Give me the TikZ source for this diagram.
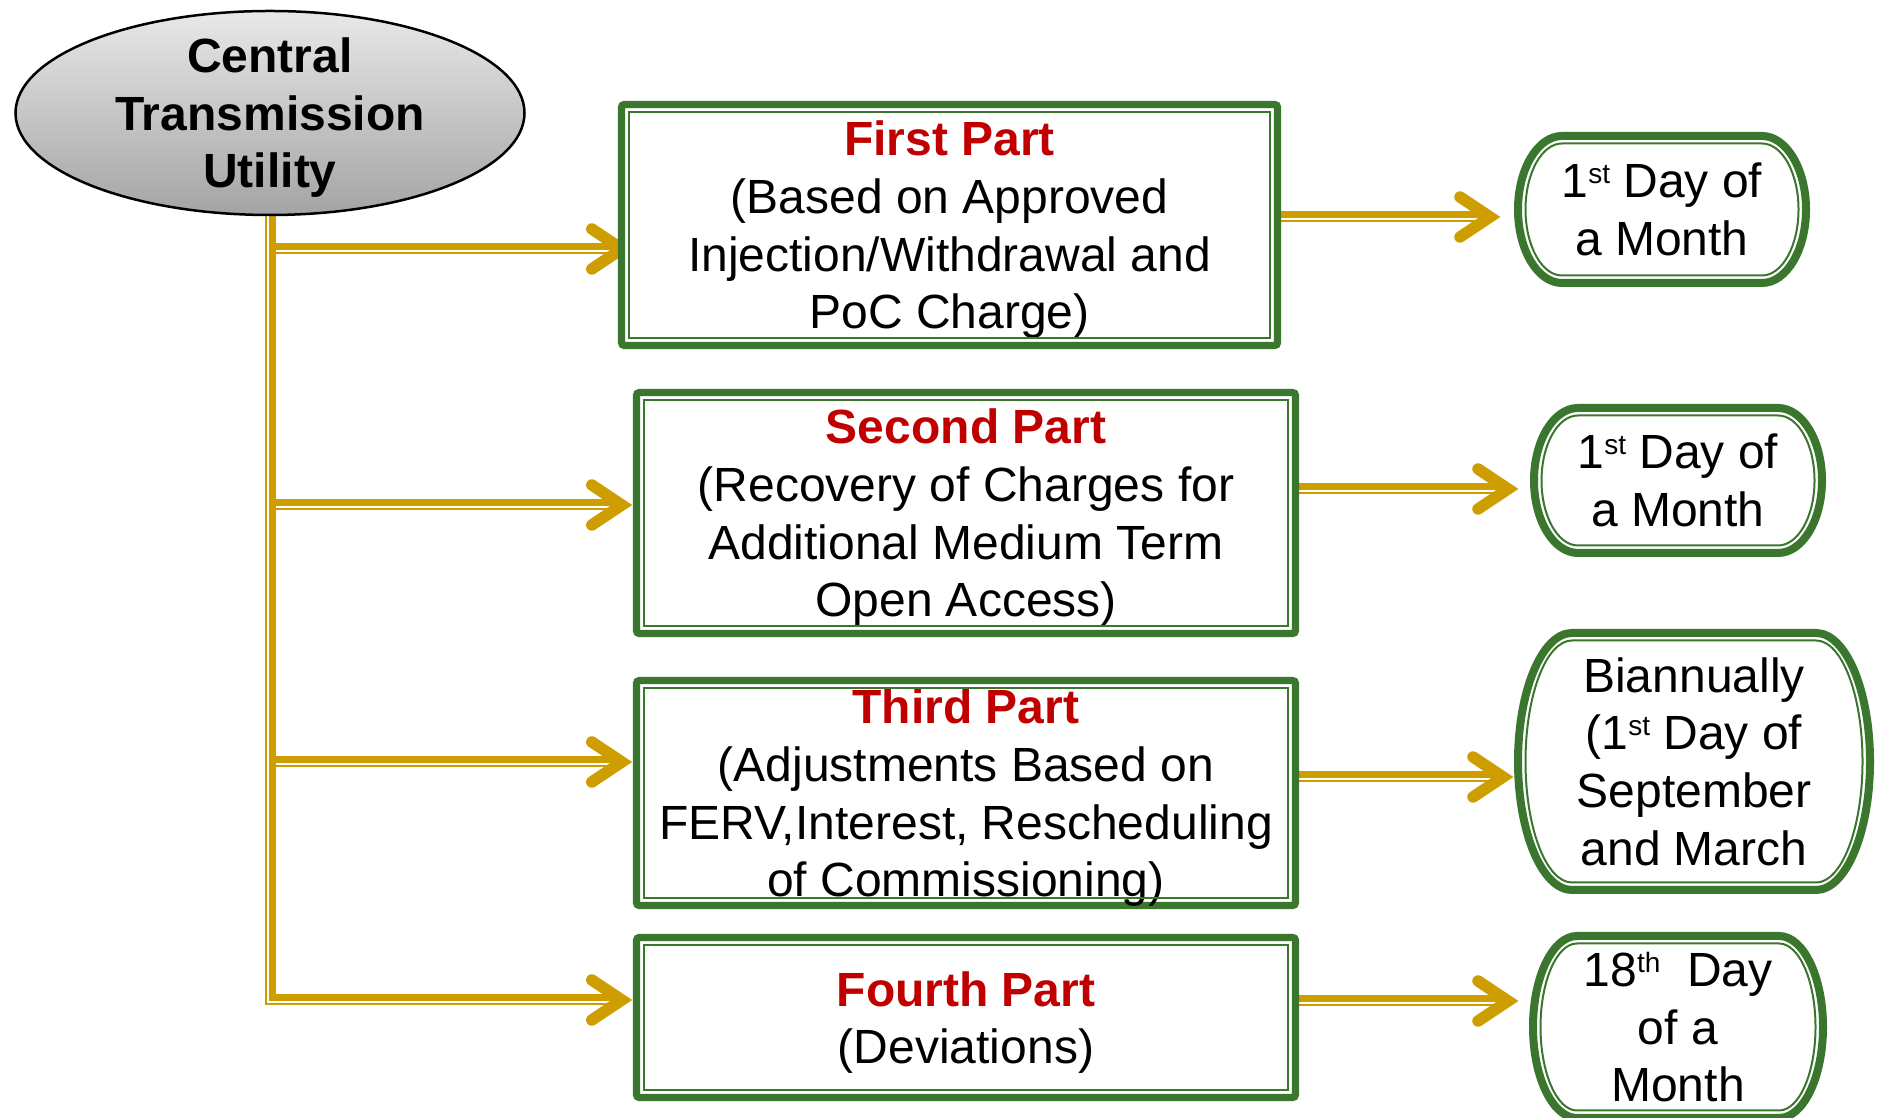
\documentclass[tikz,border=0pt]{standalone}
\usepackage{fontspec}
\setmainfont{Liberation Sans}
\usetikzlibrary{calc,shapes.geometric,backgrounds}

\definecolor{gold}{RGB}{206,157,0}
\definecolor{leaf}{RGB}{58,118,46}
\definecolor{title}{RGB}{192,0,0}
\definecolor{shadetop}{RGB}{232,232,232}
\definecolor{shadebot}{RGB}{164,164,164}

% raised small ordinal suffix
\newcommand\sups[1]{\raisebox{14.5pt}{\fontsize{28}{28}\selectfont #1}}

% capsule outline round a node: #1 node, #2 end radius, #3 half height,
% #4 inset of the stroke centre, #5 line width
\newcommand\capsule[5]{%
  \draw[leaf, line width=#5]
    ($(#1.north west)+(#2,-#4)$) -- ($(#1.north east)+(-#2,-#4)$)
    arc[start angle=90, end angle=-90, x radius=#2-#4, y radius=#3-#4]
    -- ($(#1.south west)+(#2,#4)$)
    arc[start angle=270, end angle=90, x radius=#2-#4, y radius=#3-#4]
    -- cycle;}

\tikzset{
  hub/.style={ellipse, draw=black, line width=2.5pt, top color=shadetop,
    bottom color=shadebot, minimum width=509pt, minimum height=204pt,
    inner sep=0pt},
  part/.style={draw=leaf, line width=7.3pt, rounded corners=3pt, fill=white,
    minimum width=659pt, inner sep=0pt, align=center, text depth=0pt},
  stamp/.style={inner sep=0pt, outer sep=0pt, align=center},
  pipe/.style={draw=gold, line width=11pt,
    postaction={draw=white, line width=1.8pt,
      transform canvas={xshift=-2.2pt, yshift=-2.2pt}}},
  chev/.pic={\draw[gold, line width=11.5pt, line cap=round, line join=miter]
    (-30,20) -- (0,0) -- (-30,-20);}
}

\begin{document}
\begin{tikzpicture}[x=1pt, y=1pt, font=\fontsize{48}{57.6}\selectfont]
\useasboundingbox (0,0) rectangle (1881,1118);

% source ellipse
\node[hub] (ctu) at (270,1005) {};
\node[font=\fontsize{48}{57.6}\selectfont\bfseries, align=center, text depth=0pt]
  (ctutext) at (ctu) {Central\\Transmission\\Utility};

% the four parts
\node[part, minimum width=656pt, minimum height=241pt] (b1) at (949.5,893)
  {\textcolor{title}{\bfseries First Part}\\(Based on Approved\\Injection/Withdrawal and\\PoC Charge)};
\node[part, minimum height=241pt] (b2) at (966,605)
  {\textcolor{title}{\bfseries Second Part}\\(Recovery of Charges for\\Additional Medium Term\\Open Access)};
\node[part, minimum height=225pt] (b3) at (966,325)
  {\textcolor{title}{\bfseries Third Part}\\(Adjustments Based on\\FERV,Interest, Rescheduling\\of Commissioning)};
\node[part, minimum height=160pt] (b4) at (966,100.5)
  {\textcolor{title}{\bfseries Fourth Part}\\(Deviations)};

% inner thin frames of the parts
\foreach \b in {b1,b2,b3,b4}
  \draw[leaf, line width=1.8pt] ($(\b.north west)+(10.8,-10.8)$) rectangle ($(\b.south east)+(-10.8,10.8)$);

% billing dates
\node[stamp, minimum width=296pt, minimum height=155pt] (n1) at (1662,908.5)
  {1\sups{st} Day of\\a Month};
\node[stamp, minimum width=296pt, minimum height=153pt] (n2) at (1678,637.5)
  {1\sups{st} Day of\\a Month};
\node[stamp, minimum width=360pt, minimum height=265pt] (n3) at (1694,356.5)
  {Biannually\\(1\sups{st} Day of\\September\\and March};
\node[stamp, minimum width=298pt, minimum height=190pt] (n4) at (1678,91)
  {18\sups{th}\ \ Day\\of a\\Month};

\capsule{n1}{48}{77.5}{4}{8pt}   \capsule{n1}{48}{77.5}{11.5}{2pt}
\capsule{n2}{48}{76.5}{4}{8pt}   \capsule{n2}{48}{76.5}{11.5}{2pt}
\capsule{n3}{58}{132.5}{4}{8pt}  \capsule{n3}{58}{132.5}{11.5}{2pt}
\capsule{n4}{48}{95}{4}{8pt}     \capsule{n4}{48}{95}{11.5}{2pt}

% connectors
\begin{scope}[on background layer]
  \fill[white] (0,0) rectangle (1881,1118);
  \coordinate (v1) at ($(b2.west |- b1.center)+(-11,-24)$);
  \coordinate (v2) at ($(b2.west)+(-11,8)$);
  \coordinate (v3) at ($(b3.west)+(-11,31)$);
  \coordinate (v4) at ($(b4.west)+(-11,17.5)$);
  \coordinate (s1) at ($(b1.east)+(0,8)$);
  \coordinate (s2) at ($(b2.east)+(0,24)$);
  \coordinate (s3) at ($(b3.east)+(0,16)$);
  \coordinate (s4) at ($(b4.east)+(0,16.5)$);
  \coordinate (e1) at ($(n1.west |- s1)+(-24,0)$);
  \coordinate (e2) at ($(n2.west |- s2)+(-22,0)$);
  \coordinate (e3) at ($(n3.west |- s3)+(-11,0)$);
  \coordinate (e4) at ($(n4.west |- s4)+(-21,0)$);
  \foreach \v in {v1,v2,v3,v4}
    \draw[pipe] ([yshift=4pt]ctu.south) |- (\v);
  \foreach \i in {1,2,3,4}
    \draw[pipe] (s\i) -- (e\i);
  \foreach \p in {v1,v2,v3,v4,e1,e2,e3,e4}
    \pic at (\p) {chev};
\end{scope}
\end{tikzpicture}
\end{document}
